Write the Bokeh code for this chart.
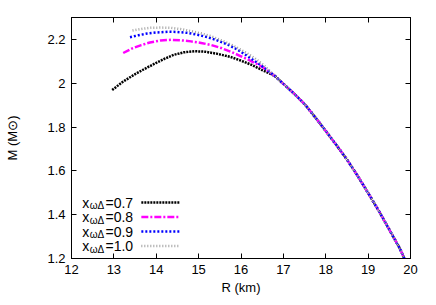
from bokeh.plotting import figure
from bokeh.models import Range1d, LinearAxis, FixedTicker
from bokeh.core.properties import value
from bokeh.embed import file_html
from bokeh.resources import INLINE

# ---- data ----
R_07 = [12.96, 13.2, 13.47, 13.73, 13.99, 14.2, 14.42, 14.65, 14.9, 15.15, 15.45, 15.75, 16.0, 16.25, 16.5]
M_07 = [1.969, 2.005, 2.038, 2.066, 2.092, 2.112, 2.13, 2.141, 2.146, 2.144, 2.134, 2.12, 2.103, 2.084, 2.06]

R_08 = [13.22, 13.42, 13.63, 13.85, 14.1, 14.35, 14.58, 14.82, 15.06, 15.3, 15.53, 15.77, 16.0, 16.25, 16.5]
M_08 = [2.138, 2.158, 2.173, 2.186, 2.195, 2.198, 2.196, 2.191, 2.184, 2.174, 2.161, 2.143, 2.123, 2.1, 2.075]

R_09 = [13.38, 13.58, 13.79, 14.03, 14.27, 14.5, 14.74, 14.98, 15.21, 15.45, 15.69, 15.93, 16.16, 16.5]
M_09 = [2.21, 2.219, 2.227, 2.232, 2.235, 2.234, 2.23, 2.221, 2.21, 2.195, 2.176, 2.152, 2.123, 2.078]

R_10 = [13.44, 13.65, 13.87, 14.1, 14.34, 14.58, 14.82, 15.05, 15.29, 15.56, 15.84, 16.08, 16.32, 16.55]
M_10 = [2.241, 2.248, 2.253, 2.254, 2.253, 2.247, 2.238, 2.228, 2.215, 2.194, 2.169, 2.144, 2.115, 2.08]

# common high-radius branch shared by all four curves
R_TAIL = [16.8, 17.0, 17.25, 17.5, 17.75, 18.0, 18.25, 18.5, 18.75, 19.0, 19.25, 19.5, 19.75, 19.9]
M_TAIL = [2.033, 1.997, 1.953, 1.905, 1.845, 1.782, 1.718, 1.652, 1.578, 1.499, 1.418, 1.332, 1.245, 1.18]

X_VALUES = ["0.7", "0.8", "0.9", "1.0"]
X_TICKS = [12, 13, 14, 15, 16, 17, 18, 19, 20]
Y_TICKS = [1.2, 1.4, 1.6, 1.8, 2.0, 2.2]
Y_TICK_LABELS = ["1.2", "1.4", "1.6", "1.8", "2", "2.2"]

SERIES = [(R_07, M_07), (R_08, M_08), (R_09, M_09), (R_10, M_10)]
COLORS = ["#000000", "#ff00ff", "#0000ff", "#a0a0a0"]
DASHES = ["2 1", "7 2 2 2", "2 2", "1 2"]

FONT = "Liberation Sans"

p = figure(frame_width=339, frame_height=241,
           min_border_left=71, min_border_right=18, min_border_top=17, min_border_bottom=39,
           x_range=Range1d(12, 20), y_range=Range1d(1.2, 2.3),
           output_backend="svg", toolbar_location=None)
p.extra_x_ranges = {"fx": Range1d(0, 1)}
p.extra_y_ranges = {"fy": Range1d(0, 1)}
p.xgrid.visible = False
p.ygrid.visible = False
p.outline_line_color = "black"
p.outline_line_width = 1
p.background_fill_color = "white"
p.border_fill_color = "white"

def style_axis(ax, ticks, show_labels=True):
    ax.ticker = FixedTicker(ticks=ticks)
    ax.major_tick_in = 5
    ax.major_tick_out = 0
    ax.minor_tick_line_color = None
    ax.major_tick_line_color = "black"
    ax.axis_line_color = "black"
    ax.major_label_text_font = FONT
    ax.major_label_text_font_size = "13px"
    ax.major_label_text_color = "black"
    ax.major_label_standoff = 6
    if not show_labels:
        ax.major_label_overrides = dict(zip(ticks, [""] * len(ticks)))
        ax.major_label_standoff = 0

style_axis(p.xaxis[0], X_TICKS)
style_axis(p.yaxis[0], Y_TICKS)
p.yaxis[0].major_label_overrides = dict(zip(Y_TICKS, Y_TICK_LABELS))
p.xaxis[0].axis_label = "R (km)"
p.xaxis[0].axis_label_standoff = 3
p.yaxis[0].axis_label = "M (M⊙)"
p.yaxis[0].axis_label_standoff = 24
for ax in (p.xaxis[0], p.yaxis[0]):
    ax.axis_label_text_font = FONT
    ax.axis_label_text_font_size = "13px"
    ax.axis_label_text_font_style = "normal"
    ax.axis_label_text_color = "black"

top = LinearAxis()
style_axis(top, X_TICKS, show_labels=False)
p.add_layout(top, "above")
right = LinearAxis()
style_axis(right, Y_TICKS, show_labels=False)
p.add_layout(right, "right")

# curves
for (r, m), c, d in zip(SERIES, COLORS, DASHES):
    p.line(r + R_TAIL, m + M_TAIL, line_color=c, line_width=2.5, line_dash=d)

# legend (frame-fraction coordinates)
rows = [0.232, 0.172, 0.1116, 0.0519]
n = len(X_VALUES)
p.text(x=[0.0316] * n, y=rows, text=["x"] * n, x_range_name="fx", y_range_name="fy",
       text_align="left", text_baseline="middle", text_font=value(FONT),
       text_font_size="14px", text_color="black")
p.text(x=[0.054] * n, y=[r - 0.013 for r in rows], text=["ωΔ"] * n, x_range_name="fx", y_range_name="fy",
       text_align="left", text_baseline="middle", text_font=value(FONT),
       text_font_size="10px", text_color="black")
p.text(x=[0.1003] * n, y=rows, text=["=" + v for v in X_VALUES], x_range_name="fx", y_range_name="fy",
       text_align="left", text_baseline="middle", text_font=value(FONT),
       text_font_size="14px", text_color="black")
for yy, c, d in zip(rows, COLORS, DASHES):
    p.line([0.206, 0.319], [yy, yy], x_range_name="fx", y_range_name="fy",
           line_color=c, line_width=2.5, line_dash=d)

open("out.html", "w").write(file_html(p, INLINE))
